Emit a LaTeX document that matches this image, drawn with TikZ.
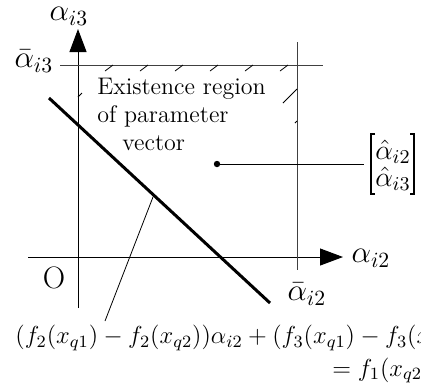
\RequirePackage{fix-cm}
\documentclass[tikz,border=0pt]{standalone}
\usepackage{amsmath}
\usetikzlibrary{arrows.meta}
\begin{document}
\begin{tikzpicture}[x=0.5pt,y=-0.5pt,
  axis/.style={line width=0.5pt,-{Triangle[length=11.5pt,width=8.5pt]}},
  bound/.style={line width=0.5pt,draw=black!75},
  hatch/.style={line width=0.4pt},
  thickline/.style={line width=1.5pt},
  thinline/.style={line width=0.4pt},
  brack/.style={line width=0.6pt},
  lbl/.style={inner sep=0pt,font=\fontsize{15.5}{17}\selectfont},
  ent/.style={inner sep=0pt,font=\fontsize{14}{16}\selectfont},
  txt/.style={inner sep=0pt,font=\fontsize{12}{14}\selectfont,align=left},
  eq/.style={inner sep=0pt,font=\fontsize{12.3}{14}\selectfont,anchor=base west}]
\useasboundingbox (0,0) rectangle (421,388);
\clip (0,0) rectangle (421,388);
% coordinates
\coordinate (ybot) at (78,308);
\coordinate (ytop) at (78,29);
\coordinate (xl) at (28,257);
\coordinate (xr) at (343,257);
\coordinate (tl) at (60,65);
\coordinate (tr) at (323,65);
\coordinate (rt) at (297,42);
\coordinate (rb) at (297,270);
\coordinate (d1) at (49,98);
\coordinate (d2) at (270,303);
\coordinate (lp) at (153,197);
\coordinate (lq) at (105,321);
% axes
\draw[axis] (ybot) -- (ytop);
\draw[axis] (xl) -- (xr);
% bounds
\draw[bound] (tl) -- (tr);
\draw[bound] (rt) -- (rb);
% hatches
\foreach \h in {105,140,175,210,245,280}
  \draw[hatch] (\h,71) -- (\h+8,65);
\draw[hatch] (283,103) -- (297,89);
\draw[hatch] (78,97) -- (82,93);
\draw[hatch] (295,123) -- (297,121);
% constraint line
\draw[thickline] (d1) -- (d2);
\draw[thinline] (lp) -- (lq);
% labels
\node[lbl] (la3) at (69,16) {$\alpha_{i3}$};
\node[lbl] (lb3) at (34,61) {$\bar{\alpha}_{i3}$};
\node[lbl] (la2) at (371,258) {$\alpha_{i2}$};
\node[lbl] (lb2) at (307,294) {$\bar{\alpha}_{i2}$};
\node[lbl] (O) at (54,278) {O};
\node[txt,anchor=north west] (reg) at (97,78) {Existence region\\of parameter\\\hspace*{12.5pt}vector};
\fill (217,164) circle (1.6pt);
\coordinate (dotc) at (217,164);
% vector label
\node[ent] (v2) at (393,152) {$\hat{\alpha}_{i2}$};
\node[ent] (v3) at (393,179) {$\hat{\alpha}_{i3}$};
\draw[brack] (375,134) -- (371,134) -- (371,194) -- (375,194);
\draw[brack] (410,134) -- (414,134) -- (414,194) -- (410,194);
\coordinate (vecl) at (364,164);
\draw[thinline] (dotc) -- (vecl);
\node[eq] (eq1) at (15,343.5) {$(f_2(x_{q1})-f_2(x_{q2}))\alpha_{i2}+(f_3(x_{q1})-f_3(x_{q2}))\alpha_{i3}$};
\node[eq] (eq2) at (332,376) {$=f_1(x_{q2})-f_1(x_{q1})$};
\end{tikzpicture}
\end{document}
